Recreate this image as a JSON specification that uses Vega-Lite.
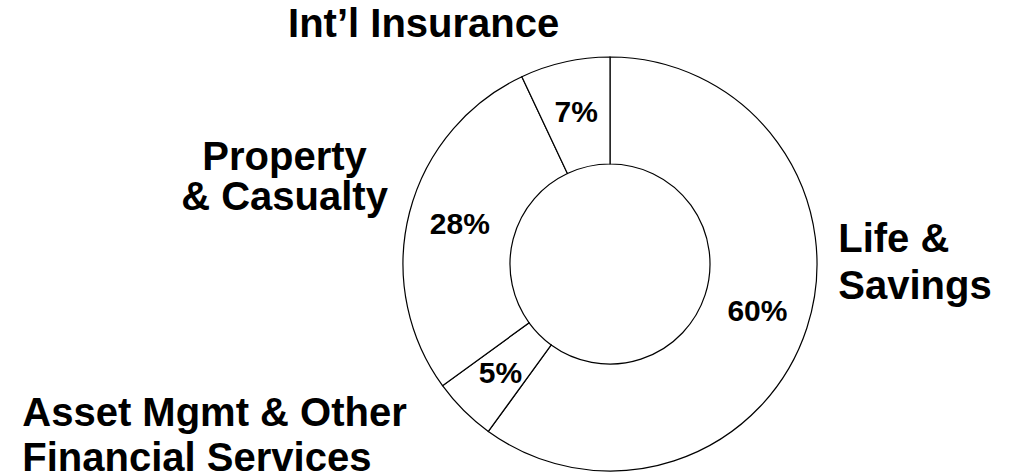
{
  "$schema": "https://vega.github.io/schema/vega-lite/v6.json",
  "width": 416,
  "height": 416,
  "autosize": {"type": "none"},
  "padding": {"left": 402, "top": 56, "right": 194, "bottom": 2},
  "background": "white",
  "config": {"view": {"stroke": null}, "font": "Liberation Sans"},
  "title": {"text": "US", "anchor": "start", "frame": "group", "orient": "top", "baseline": "alphabetic", "offset": 0, "dx": -416, "dy": 100, "fontSize": 40, "fontWeight": "bold", "font": "Liberation Sans", "color": "black"},
  "data": {
    "values": [
      {"rank": 1, "segment": "Life & Savings", "share": 60, "pct": "60%", "label": ["Life &", "Savings"]},
      {"rank": 2, "segment": "Asset Mgmt & Other Financial Services", "share": 5, "pct": "5%", "label": ["Asset Mgmt & Other", "Financial Services"]},
      {"rank": 3, "segment": "Property & Casualty", "share": 28, "pct": "28%", "label": ["Property", "& Casualty"]},
      {"rank": 4, "segment": "Int’l Insurance", "share": 7, "pct": "7%", "label": ["Int’l Insurance"]}
    ]
  },
  "encoding": {
    "theta": {"field": "share", "type": "quantitative", "stack": true},
    "order": {"field": "rank", "type": "quantitative", "sort": "ascending"}
  },
  "layer": [
    {
      "mark": {"type": "arc", "innerRadius": 100, "outerRadius": 207, "fill": "white", "stroke": "black", "strokeWidth": 1.2}
    },
    {
      "mark": {"type": "text", "radius": 155, "fontSize": 30, "fontWeight": "bold", "font": "Liberation Sans", "color": "black", "align": "center", "baseline": "middle"},
      "encoding": {"text": {"field": "pct"}}
    },
    {
      "mark": {"type": "text", "radius": 240, "fontSize": 40, "fontWeight": "bold", "font": "Liberation Sans", "color": "black", "align": "left", "baseline": "middle", "lineHeight": 47, "dy": -98},
      "encoding": {"text": {"condition": {"test": "datum.segment === 'Life & Savings'", "field": "label"}, "value": ""}}
    },
    {
      "mark": {"type": "text", "radius": 240, "fontSize": 40, "fontWeight": "bold", "font": "Liberation Sans", "color": "black", "align": "left", "baseline": "middle", "lineHeight": 45, "dx": -418, "dy": -20},
      "encoding": {"text": {"condition": {"test": "datum.segment === 'Asset Mgmt & Other Financial Services'", "field": "label"}, "value": ""}}
    },
    {
      "mark": {"type": "text", "radius": 240, "fontSize": 40, "fontWeight": "bold", "font": "Liberation Sans", "color": "black", "align": "center", "baseline": "middle", "lineHeight": 40, "dx": -93, "dy": -46},
      "encoding": {"text": {"condition": {"test": "datum.segment === 'Property & Casualty'", "field": "label"}, "value": ""}}
    },
    {
      "mark": {"type": "text", "radius": 240, "fontSize": 40, "fontWeight": "bold", "font": "Liberation Sans", "color": "black", "align": "center", "baseline": "alphabetic", "dx": -134, "dy": 7},
      "encoding": {"text": {"condition": {"test": "datum.segment === 'Int’l Insurance'", "field": "label"}, "value": ""}}
    }
  ]
}
